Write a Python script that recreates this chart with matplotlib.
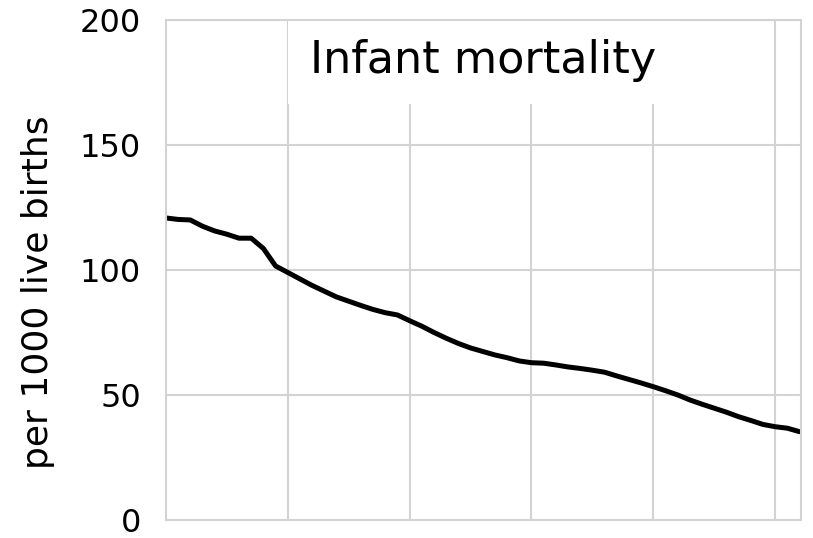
import numpy as np
import matplotlib.pyplot as plt

# infant mortality, per 1000 live births, one value per year
years = list(range(1960, 2013))
mortality = [120.8, 120.2, 120.0, 117.5, 115.6, 114.3, 112.7, 112.7, 108.6, 101.6,
             99.0, 96.4, 93.8, 91.5, 89.2, 87.5, 85.8, 84.2, 82.9, 82.0,
             79.7, 77.5, 75.0, 72.7, 70.6, 68.8, 67.4, 66.0, 64.9, 63.6,
             62.9, 62.7, 62.0, 61.2, 60.6, 59.9, 59.1, 57.6, 56.2, 54.8,
             53.3, 51.7, 50.0, 48.0, 46.3, 44.7, 43.1, 41.3, 39.8, 38.2,
             37.3, 36.7, 35.3]
grid_years = [1970, 1980, 1990, 2000, 2010]
y_ticks = [0, 50, 100, 150, 200]

plt.rcParams['font.family'] = ['DejaVu Sans']
grey = '#d3d3d3'

fig = plt.figure(figsize=(8.13, 5.38), dpi=100)
ax = fig.add_axes([0.204, 0.0335, 0.781, 0.9295])

ax.plot(years, mortality, color='black', linewidth=3.6, solid_capstyle='round', zorder=3)

ax.set_xlim(1960, 2012.1)
ax.set_ylim(0, 200)
ax.set_xticks(grid_years)
ax.set_xticklabels([])
ax.set_yticks(y_ticks)
ax.tick_params(axis='both', length=0)
ax.tick_params(axis='y', labelsize=23, pad=18)
ax.grid(True, color=grey, linewidth=1.5, zorder=0)
ax.set_axisbelow(True)
for s in ax.spines.values():
    s.set_color(grey)
    s.set_linewidth(1.5)
    s.set_zorder(5)

ax.set_ylabel('per 1000 live births', fontsize=26)
ax.yaxis.set_label_coords(-0.175, 0.456)

ax.text(0.5, 0.894, 'Infant mortality', transform=ax.transAxes, fontsize=32,
        ha='center', va='baseline', zorder=4,
        bbox=dict(facecolor='white', edgecolor='none', pad=16))

fig.savefig('out.png', dpi=100)
